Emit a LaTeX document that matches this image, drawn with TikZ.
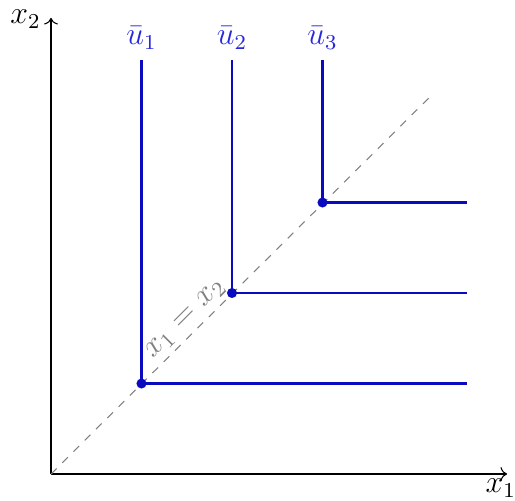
\documentclass[tikz,border=0pt]{standalone}
\usetikzlibrary{arrows.meta}
\definecolor{lineblue}{RGB}{10,10,190}
\definecolor{labblue}{RGB}{40,40,220}
\begin{document}
\begin{tikzpicture}[x=1.2cm,y=1.2cm,
  axis/.style={->,line width=0.4pt},
  curve/.style={lineblue,line width=0.85pt},
  dot/.style={circle,fill=lineblue,inner sep=0pt,minimum size=3.8pt},
  ulab/.style={labblue,inner sep=2pt},
  diag/.style={gray,dashed,line width=0.4pt}]
\useasboundingbox (-0.5635,-0.298) rectangle (5.127,5.2376);
\coordinate (O) at (0,0);
\coordinate (xend) at (5.04,0);
\coordinate (yend) at (0,5.04);
\draw[axis] (O) -- (xend);
\draw[axis] (O) -- (yend);
\node[anchor=north,font=\large,inner sep=1pt] (x1lab) at (4.97,-0.02) {$x_1$};
\node[anchor=east,font=\large,inner sep=2pt] (x2lab) at (-0.05,5.03) {$x_2$};
\coordinate (dend) at (4.2,4.18);
\draw[diag] (O) -- (dend);
\node[gray,rotate=45,font=\large,inner sep=1pt] (diaglab) at (1.49,1.71) {$x_1 = x_2$};
\foreach \i in {1,2,3}{
  \node[dot] (p\i) at (\i,\i) {};
  \coordinate (t\i) at (\i,4.57);
  \coordinate (r\i) at (4.6,\i);
  \draw[curve] (t\i) -- (p\i.center) -- (r\i);
  \node[ulab,font=\large] (u\i) at (\i,4.82) {$\bar u_{\i}$};
}
\end{tikzpicture}
\end{document}
